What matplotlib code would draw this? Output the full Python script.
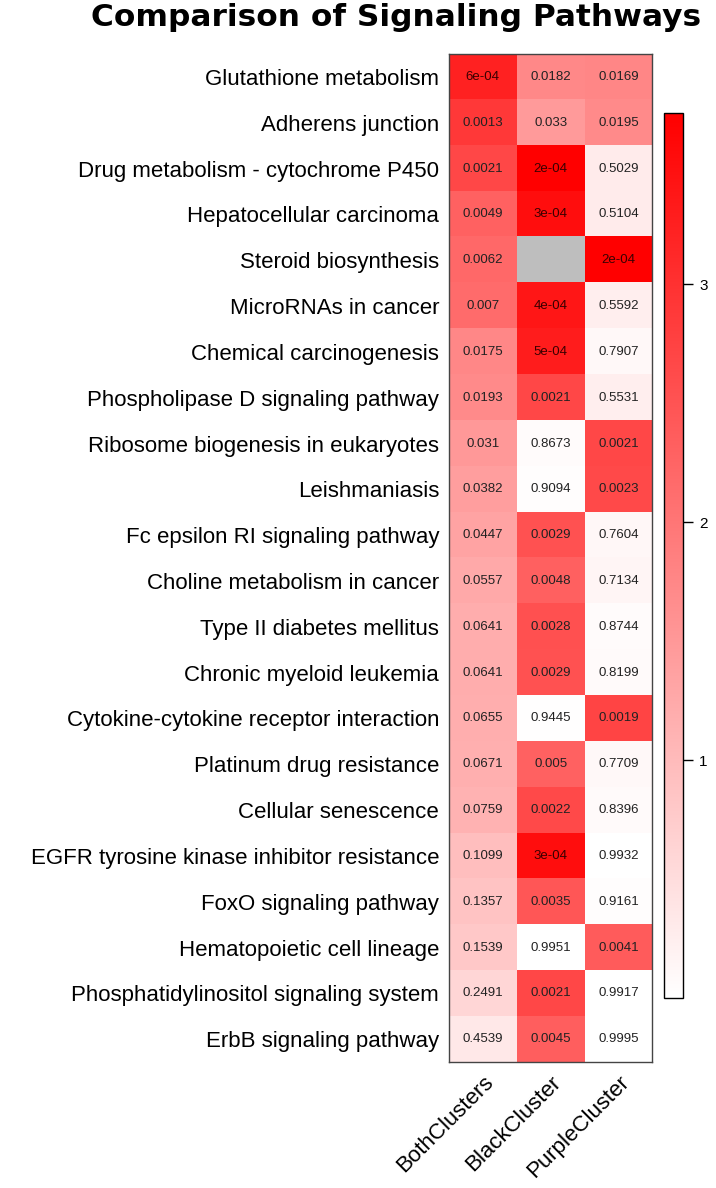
import numpy as np
import matplotlib
matplotlib.use("Agg")
import matplotlib.pyplot as plt
from matplotlib.colors import LinearSegmentedColormap

pathways = [
    "Glutathione metabolism", "Adherens junction",
    "Drug metabolism - cytochrome P450", "Hepatocellular carcinoma",
    "Steroid biosynthesis", "MicroRNAs in cancer", "Chemical carcinogenesis",
    "Phospholipase D signaling pathway", "Ribosome biogenesis in eukaryotes",
    "Leishmaniasis", "Fc epsilon RI signaling pathway",
    "Choline metabolism in cancer", "Type II diabetes mellitus",
    "Chronic myeloid leukemia", "Cytokine-cytokine receptor interaction",
    "Platinum drug resistance", "Cellular senescence",
    "EGFR tyrosine kinase inhibitor resistance", "FoxO signaling pathway",
    "Hematopoietic cell lineage", "Phosphatidylinositol signaling system",
    "ErbB signaling pathway",
]
clusters = ["BothClusters", "BlackCluster", "PurpleCluster"]

both = [6e-04, 0.0013, 0.0021, 0.0049, 0.0062, 0.007, 0.0175, 0.0193, 0.031,
        0.0382, 0.0447, 0.0557, 0.0641, 0.0641, 0.0655, 0.0671, 0.0759, 0.1099,
        0.1357, 0.1539, 0.2491, 0.4539]
black = [0.0182, 0.033, 2e-04, 3e-04, np.nan, 4e-04, 5e-04, 0.0021, 0.8673,
         0.9094, 0.0029, 0.0048, 0.0028, 0.0029, 0.9445, 0.005, 0.0022, 3e-04,
         0.0035, 0.9951, 0.0021, 0.0045]
purple = [0.0169, 0.0195, 0.5029, 0.5104, 2e-04, 0.5592, 0.7907, 0.5531, 0.0021,
          0.0023, 0.7604, 0.7134, 0.8744, 0.8199, 0.0019, 0.7709, 0.8396, 0.9932,
          0.9161, 0.0041, 0.9917, 0.9995]
cbar_ticks = [1, 2, 3]

pvals = np.array([both, black, purple]).T
score = -np.log10(pvals)

cmap = LinearSegmentedColormap.from_list("wr", ["white", "red"])
cmap.set_bad("#bebebe")

fig = plt.figure(figsize=(7.16, 11.88), dpi=100)
ax = fig.add_axes([0.627, 0.106, 0.284, 0.8485])
im = ax.imshow(np.ma.masked_invalid(score), cmap=cmap, vmin=0, vmax=3.72,
               aspect="auto", interpolation="nearest")

for i in range(len(pathways)):
    for j in range(len(clusters)):
        p = pvals[i, j]
        if np.isnan(p):
            continue
        txt = f"{p:.0e}" if p < 0.001 else f"{p:.4g}"
        # darker text on the strongest cells, like the original
        col = "#3a0000" if score[i, j] > 3.2 else "#222222"
        ax.text(j, i, txt, ha="center", va="center", fontsize=9.5,
                color=col, family="Liberation Sans")

ax.set_yticks(range(len(pathways)))
ax.set_yticklabels(pathways, fontsize=16, family="Liberation Sans")
ax.set_xticks(range(len(clusters)))
ax.set_xticklabels(clusters, fontsize=16, family="Liberation Sans",
                   rotation=45, ha="right", va="top", rotation_mode="anchor")
ax.tick_params(length=0, pad=7)
for s in ax.spines.values():
    s.set_color("#444444")
    s.set_linewidth(1)

cax = fig.add_axes([0.927, 0.16, 0.0265, 0.745])
cb = fig.colorbar(im, cax=cax, ticks=cbar_ticks)
cb.outline.set_linewidth(1)
cb.ax.tick_params(labelsize=11, length=7, width=1, pad=5)
for t in cb.ax.get_yticklabels():
    t.set_family("Liberation Sans")

fig.text(0.553, 0.985, "Comparison of Signaling Pathways", ha="center",
         va="center", fontsize=22.5, fontweight="bold", family="DejaVu Sans")

fig.savefig("out.png", dpi=100)
